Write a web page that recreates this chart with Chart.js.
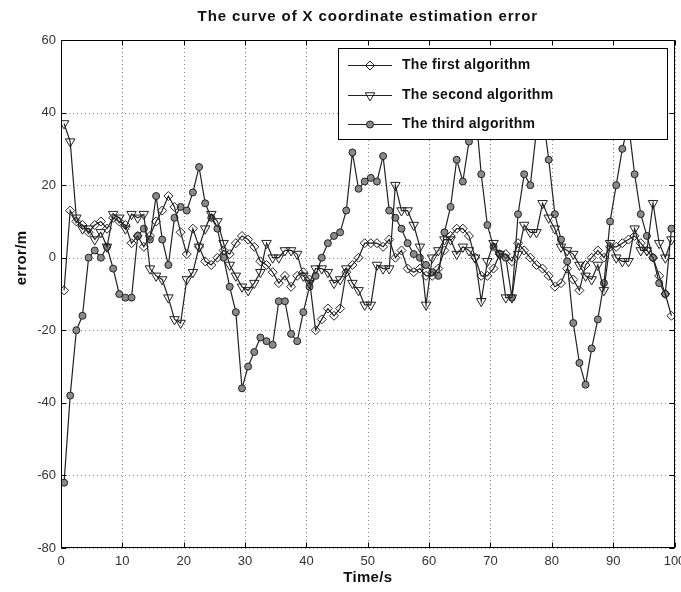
<!DOCTYPE html>
<html><head><meta charset="utf-8">
<script src="https://cdn.jsdelivr.net/npm/chart.js@4.4.0/dist/chart.umd.min.js"></script>
<style>html,body{margin:0;padding:0;background:#fff}#wrap{width:681px;height:592px;position:relative}</style>
</head><body><div id="wrap"><canvas id="c" width="681" height="592"></canvas></div>
<script>
const titleText = 'The curve of X coordinate estimation error';
const xTitle = 'Time/s';
const yTitle = 'error/m';
const seriesNames = ['The first algorithm', 'The second algorithm', 'The third algorithm'];
const xTicks = [0, 10, 20, 30, 40, 50, 60, 70, 80, 90, 100];
const yTicks = [-80, -60, -40, -20, 0, 20, 40, 60];

const firstAlg = [
  -9, 13, 10, 9, 7, 9, 10, 8, 11, 10,
  9, 4, 6, 3, 6, 10, 13, 17, 14, 7,
  1, 8, 3, -1, -2, 0, 2, 1, 4, 6,
  5, 3, -1, -2, -4, -7, -5, -8, -5, -4,
  -6, -20, -17, -14, -16, -14, -4, -2, 0, 4,
  4, 4, 3, 5, 0, 2, -3, -4, -3, -5,
  -5, -3, 2, 6, 8, 8, 6, 0, -5, -5,
  -3, 1, 1, -1, 4, 2, 0, -2, -3, -5,
  -8, -7, -3, -6, -9, -2, 0, 2, 0, 3,
  3, 4, 5, 6, 4, 2, 0, -5, -10, -16
];
const secondAlg = [
  37, 32, 11, 8, 8, 5, 7, 3, 12, 11,
  8, 12, 11, 12, -3, -5, -6, -11, -17, -18,
  -6, -4, 3, 8, 12, 10, 4, -2, -5, -8,
  -9, -7, -4, 4, 0, 0, 2, 2, 1, -5,
  -7, -3, -3, -4, -7, -6, -3, -7, -9, -13,
  -13, -2, -3, -3, 20, 13, 13, 9, 3, -13,
  0, 2, 5, 5, 1, 3, 2, 0, -12, -1,
  4, 1, -11, -11, 1, 9, 7, 7, 15, 11,
  8, 3, 2, 1, -2, -5, -6, -2, -9, 4,
  0, -1, -1, 8, 2, 2, 15, 4, 0, 5
];
const thirdAlg = [
  -62, -38, -20, -16, 0, 2, 0, 3, -3, -10,
  -11, -11, 6, 8, 5, 17, 5, -2, 11, 14,
  13, 18, 25, 15, 11, 8, 0, -8, -15, -36,
  -30, -26, -22, -23, -24, -12, -12, -21, -23, -15,
  -8, -5, 0, 4, 6, 7, 13, 29, 19, 21,
  22, 21, 28, 13, 11, 8, 4, 1, 0, -2,
  -4, -5, 7, 14, 27, 21, 32, 42, 23, 9,
  3, 1, 0, -11, 12, 23, 20, 35, 40, 27,
  12, 5, -1, -18, -29, -35, -25, -17, -7, 10,
  20, 30, 37, 23, 12, 6, 0, -7, -10, 8
];
// sample times (one per second, centred in each second)
const times = firstAlg.map((_, i) => i + 0.5);

const pts = arr => arr.map((v, i) => ({x: times[i], y: v}));

const markerStyles = [
  {pointStyle: 'rectRot', rotation: 0, radius: 4.5, bg: 'rgba(255,255,255,0)'},
  {pointStyle: 'triangle', rotation: 180, radius: 5.5, bg: 'rgba(255,255,255,0)'},
  {pointStyle: 'circle', rotation: 0, radius: 3.5, bg: '#8a8a8a'}
];
const seriesData = [firstAlg, secondAlg, thirdAlg];

const datasets = seriesData.map((arr, i) => ({
  label: seriesNames[i],
  data: pts(arr),
  borderColor: '#222',
  borderWidth: 1.2,
  pointStyle: markerStyles[i].pointStyle,
  rotation: markerStyles[i].rotation,
  pointRadius: markerStyles[i].radius,
  pointBackgroundColor: markerStyles[i].bg,
  pointBorderColor: '#222',
  pointBorderWidth: 1,
  tension: 0,
  fill: false
}));

const tickFont = {family: "'Liberation Sans Narrow', 'Liberation Sans', Arial, sans-serif", size: 13};
const boldFont = "'Liberation Sans', Arial, sans-serif";

const decor = {
  id: 'decor',
  beforeDatasetsDraw(chart) {
    const {ctx, chartArea: a, scales: {x, y}} = chart;
    ctx.save();
    ctx.strokeStyle = '#8c8c8c';
    ctx.lineWidth = 1;
    ctx.setLineDash([1, 3]);
    xTicks.forEach(v => {
      const px = Math.round(x.getPixelForValue(v)) + 0.5;
      ctx.beginPath(); ctx.moveTo(px, a.top); ctx.lineTo(px, a.bottom); ctx.stroke();
    });
    yTicks.forEach(v => {
      const py = Math.round(y.getPixelForValue(v)) + 0.5;
      ctx.beginPath(); ctx.moveTo(a.left, py); ctx.lineTo(a.right, py); ctx.stroke();
    });
    ctx.restore();
  },
  afterDatasetsDraw(chart) {
    const {ctx, chartArea: a, scales: {x, y}} = chart;
    ctx.save();
    ctx.setLineDash([]);
    ctx.strokeStyle = '#000';
    ctx.lineWidth = 1;
    const L = Math.round(a.left) + 0.5, R = Math.round(a.right) - 0.5;
    const T = Math.round(a.top) + 0.5, B = Math.round(a.bottom) - 0.5;
    ctx.strokeRect(L, T, R - L, B - T);
    const tl = 5;
    ctx.beginPath();
    xTicks.forEach(v => {
      const px = Math.round(x.getPixelForValue(v)) + 0.5;
      ctx.moveTo(px, B); ctx.lineTo(px, B - tl);
      ctx.moveTo(px, T); ctx.lineTo(px, T + tl);
    });
    yTicks.forEach(v => {
      const py = Math.round(y.getPixelForValue(v)) + 0.5;
      ctx.moveTo(L, py); ctx.lineTo(L + tl, py);
      ctx.moveTo(R, py); ctx.lineTo(R - tl, py);
    });
    ctx.stroke();

    // legend box inside plot
    const lx = 338.5, ly = 48.5, lw = 329, lh = 91;
    ctx.fillStyle = '#fff';
    ctx.fillRect(lx, ly, lw, lh);
    ctx.strokeRect(lx, ly, lw, lh);
    const rows = [65, 95, 124];
    ctx.font = 'bold 14px ' + boldFont;
    ctx.textBaseline = 'middle';
    ctx.textAlign = 'left';
    seriesNames.forEach((name, i) => {
      const yy = rows[i] + 0.5;
      ctx.strokeStyle = '#222';
      ctx.beginPath(); ctx.moveTo(348, yy); ctx.lineTo(392, yy); ctx.stroke();
      ctx.fillStyle = markerStyles[i].bg;
      Chart.helpers.drawPoint(ctx, {
        pointStyle: markerStyles[i].pointStyle,
        rotation: markerStyles[i].rotation,
        radius: markerStyles[i].radius,
        borderWidth: 1
      }, 370, yy);
      ctx.fillStyle = '#111';
      ctx.letterSpacing = '0.3px';
      ctx.fillText(name, 402, yy);
      ctx.letterSpacing = '0px';
    });

    // titles
    ctx.fillStyle = '#111';
    ctx.textAlign = 'center';
    ctx.font = 'bold 15px ' + boldFont;
    ctx.letterSpacing = '0.9px';
    ctx.fillText(titleText, (a.left + a.right) / 2, 17);
    ctx.letterSpacing = '0.3px';
    ctx.fillText(xTitle, (a.left + a.right) / 2, 578);
    ctx.save();
    ctx.translate(22, Math.round(y.getPixelForValue(0)));
    ctx.rotate(-Math.PI / 2);
    ctx.fillText(yTitle, 0, 0);
    ctx.restore();
    ctx.restore();
  }
};

new Chart(document.getElementById('c'), {
  type: 'line',
  data: {datasets},
  plugins: [decor],
  options: {
    responsive: false,
    animation: false,
    devicePixelRatio: 1,
    layout: {padding: {top: 40, right: 6, left: 0, bottom: 0}},
    plugins: {legend: {display: false}, title: {display: false}, tooltip: {enabled: false}},
    scales: {
      x: {
        type: 'linear', min: 0, max: 100,
        afterBuildTicks: s => { s.ticks = xTicks.map(v => ({value: v})); },
        afterFit: s => { s.height = 44; s.paddingLeft = 0; s.paddingRight = 0; },
        grid: {display: false, drawTicks: false},
        border: {display: false},
        ticks: {font: tickFont, color: '#333', padding: 6, maxRotation: 0, autoSkip: false}
      },
      y: {
        type: 'linear', min: -80, max: 60,
        afterBuildTicks: s => { s.ticks = yTicks.map(v => ({value: v})); },
        afterFit: s => { s.width = 61; s.paddingTop = 0; s.paddingBottom = 0; },
        grid: {display: false, drawTicks: false},
        border: {display: false},
        ticks: {font: tickFont, color: '#333', padding: 5, autoSkip: false}
      }
    }
  }
});
</script>
</body></html>
